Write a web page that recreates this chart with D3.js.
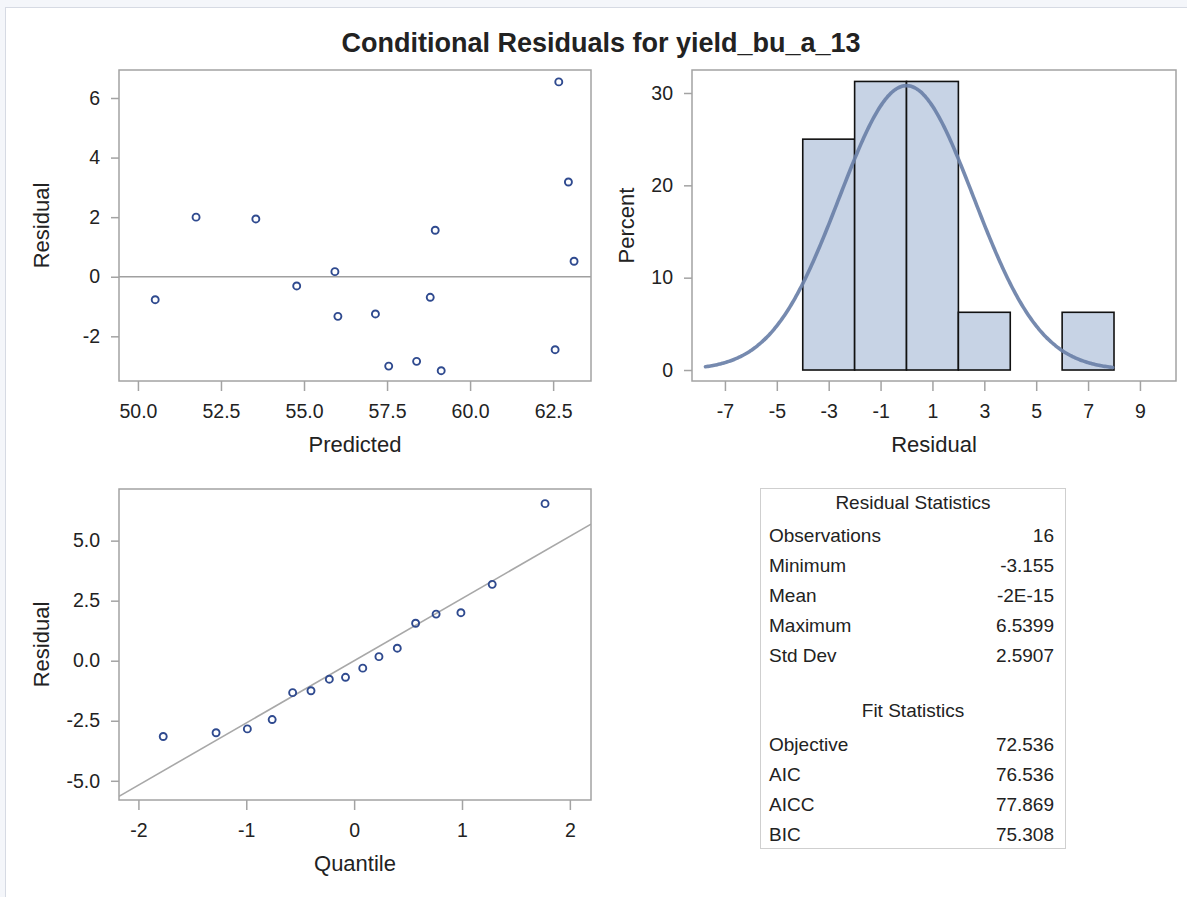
<!DOCTYPE html>
<html>
<head>
<meta charset="utf-8">
<script src="https://cdn.jsdelivr.net/npm/d3@7"></script>
<style>
  html, body { margin: 0; padding: 0; background: #f4f6fa; }
  svg { display: block; }
  text { font-family: "Liberation Sans", Arial, sans-serif; fill: #222; }
</style>
</head>
<body>
<svg id="chart" width="1187" height="897"></svg>
<script>
// ---------------- data ----------------
const chartTitle = "Conditional Residuals for yield_bu_a_13";
const predicted = [50.52, 51.75, 53.55, 54.78, 55.93, 56.02, 57.15, 57.55, 58.39, 58.80, 58.95, 59.13, 62.56, 62.67, 62.96, 63.13];
const residuals = [-0.77, 2.00, 1.94, -0.31, 0.17, -1.33, -1.25, -3.00, -2.84, -0.69, 1.56, -3.155, -2.45, 6.54, 3.18, 0.52];
// normal quantiles for sorted residuals
const quantiles = [-1.77, -1.28, -0.99, -0.76, -0.57, -0.40, -0.23, -0.08, 0.08, 0.23, 0.40, 0.57, 0.76, 0.99, 1.28, 1.77];
// histogram bins
const binStart = [-4, -2, 0, 2, 4, 6];
const binEnd   = [-2, 0, 2, 4, 6, 8];
const binPercent = [25, 31.25, 31.25, 6.25, 0, 6.25];
// tick values
const scatterXTicks = [50, 52.5, 55, 57.5, 60, 62.5];
const scatterYTicks = [-2, 0, 2, 4, 6];
const histXTicks = [-7, -5, -3, -1, 1, 3, 5, 7, 9];
const histYTicks = [0, 10, 20, 30];
const qqXTicks = [-2, -1, 0, 1, 2];
const qqYTicks = [-5, -2.5, 0, 2.5, 5];
// statistics table
const residStatLabels = ["Observations", "Minimum", "Mean", "Maximum", "Std Dev"];
const residStatValues = ["16", "-3.155", "-2E-15", "6.5399", "2.5907"];
const fitStatLabels = ["Objective", "AIC", "AICC", "BIC"];
const fitStatValues = ["72.536", "76.536", "77.869", "75.308"];
const residMean = 0;
const residSD = 2.5907;
const curveRange = [-7.75, 7.95];
const binWidth = 2;

// ---------------- drawing ----------------
const svg = d3.select("#chart");
const frameColor = "#a3a3a3";
const markerColor = "#2f4a8f";
const tickFont = "19.5px";
const labelFont = "22px";
const hy = f => (v => f(v).replace("\u2212", "-"));

// page panel
svg.append("rect").attr("x", 5.5).attr("y", 7.5).attr("width", 1200).attr("height", 900)
  .attr("fill", "#fff").attr("stroke", "#d6dae3").attr("stroke-width", 1);

svg.append("text").attr("x", 601).attr("y", 52).attr("text-anchor", "middle")
  .style("font-size", "27px").style("font-weight", "bold").attr("fill", "#111")
  .text(chartTitle);

function drawAxes(g, x, y, xTicks, yTicks, xFmt, yFmt, xLabel, yLabel, yLabelX) {
  const [x0, x1] = x.range();
  const [y0, y1] = y.range(); // y0 bottom, y1 top
  const ax = g.append("g").attr("transform", `translate(0,${y0})`)
    .call(d3.axisBottom(x).tickValues(xTicks).tickFormat(hy(xFmt)).tickSize(10).tickPadding(13));
  const ay = g.append("g").attr("transform", `translate(${x0},0)`)
    .call(d3.axisLeft(y).tickValues(yTicks).tickFormat(hy(yFmt)).tickSize(8).tickPadding(11));
  [ax, ay].forEach(a => {
    a.select(".domain").remove();
    a.selectAll(".tick line").attr("stroke", frameColor).attr("stroke-width", 1.5);
    a.selectAll(".tick text").style("font-size", tickFont).style("font-family", '"Liberation Sans", Arial, sans-serif').attr("fill", "#222");
  });
  g.append("text").attr("x", (x0 + x1) / 2).attr("y", y0 + 71).attr("text-anchor", "middle")
    .style("font-size", labelFont).text(xLabel);
  g.append("text").attr("transform", `translate(${yLabelX},${(y0 + y1) / 2}) rotate(-90)`)
    .attr("text-anchor", "middle").attr("dy", "0.35em").style("font-size", labelFont).text(yLabel);
}
function frame(g, x, y) {
  const [x0, x1] = x.range();
  const [y0, y1] = y.range();
  g.append("rect").attr("x", x0).attr("y", y1).attr("width", x1 - x0).attr("height", y0 - y1)
    .attr("fill", "none").attr("stroke", frameColor).attr("stroke-width", 1.5);
}

// ---- panel 1: residual vs predicted ----
{
  const g = svg.append("g");
  const x = d3.scaleLinear().domain([49.43, 63.64]).range([119, 591]);
  const y = d3.scaleLinear().domain([-3.5, 6.94]).range([381, 70]);
  g.append("line").attr("x1", x.range()[0]).attr("x2", x.range()[1])
    .attr("y1", y(0)).attr("y2", y(0)).attr("stroke", "#a0a0a0").attr("stroke-width", 1.5);
  g.selectAll("circle").data(predicted.map((p, i) => [p, residuals[i]])).join("circle")
    .attr("cx", d => x(d[0])).attr("cy", d => y(d[1])).attr("r", 3.5)
    .attr("fill", "none").attr("stroke", markerColor).attr("stroke-width", 1.9);
  frame(g, x, y);
  drawAxes(g, x, y, scatterXTicks, scatterYTicks, d3.format(".1f"), d3.format("d"), "Predicted", "Residual", 41);
}

// ---- panel 2: histogram ----
{
  const g = svg.append("g");
  const x = d3.scaleLinear().domain([-8.27, 10.39]).range([692, 1176]);
  const y = d3.scaleLinear().domain([-1.19, 32.49]).range([381, 70]);
  const bins = binStart.map((s, i) => ({ s, e: binEnd[i], p: binPercent[i] }));
  g.selectAll("rect.bar").data(bins).join("rect").attr("class", "bar")
    .attr("x", d => x(d.s)).attr("width", d => x(d.e) - x(d.s))
    .attr("y", d => y(d.p)).attr("height", d => y(0) - y(d.p))
    .attr("fill", "#c7d3e5").attr("stroke", "#111").attr("stroke-width", 1.6);
  // normal density curve from mean / std dev, scaled to percent per bin
  const xs = d3.range(curveRange[0], curveRange[1] + 0.001, 0.05);
  const dens = v => 100 * binWidth * Math.exp(-0.5 * ((v - residMean) / residSD) ** 2) / (residSD * Math.sqrt(2 * Math.PI));
  g.append("path").datum(xs)
    .attr("d", d3.line().x(v => x(v)).y(v => y(dens(v))).curve(d3.curveBasis))
    .attr("fill", "none").attr("stroke", "#6a80a8").attr("stroke-width", 3.6)
    .attr("stroke-opacity", 0.92).attr("stroke-linecap", "round");
  frame(g, x, y);
  drawAxes(g, x, y, histXTicks, histYTicks, d3.format("d"), d3.format("d"), "Residual", "Percent", 626);
}

// ---- panel 3: QQ plot ----
{
  const g = svg.append("g");
  const x = d3.scaleLinear().domain([-2.18, 2.196]).range([119, 591]);
  const y = d3.scaleLinear().domain([-5.8, 7.15]).range([800, 489]);
  svg.append("clipPath").attr("id", "qqclip").append("rect")
    .attr("x", 119).attr("y", 489).attr("width", 472).attr("height", 311);
  const dom = x.domain();
  g.append("line").attr("clip-path", "url(#qqclip)")
    .attr("x1", x(dom[0])).attr("y1", y(residMean + residSD * dom[0]))
    .attr("x2", x(dom[1])).attr("y2", y(residMean + residSD * dom[1]))
    .attr("stroke", "#a8a8a8").attr("stroke-width", 1.6);
  const sorted = residuals.slice().sort((a, b) => a - b);
  g.selectAll("circle").data(quantiles.map((q, i) => [q, sorted[i]])).join("circle")
    .attr("cx", d => x(d[0])).attr("cy", d => y(d[1])).attr("r", 3.5)
    .attr("fill", "none").attr("stroke", markerColor).attr("stroke-width", 1.9);
  frame(g, x, y);
  drawAxes(g, x, y, qqXTicks, qqYTicks, d3.format("d"), d3.format(".1f"), "Quantile", "Residual", 41);
}

// ---- panel 4: statistics table ----
{
  const g = svg.append("g");
  const bx = 760.5, by = 488.5, bw = 305, bh = 360;
  g.append("rect").attr("x", bx).attr("y", by).attr("width", bw).attr("height", bh)
    .attr("fill", "#fff").attr("stroke", "#cfcfcf").attr("stroke-width", 1);
  const fs = "19px";
  const lx = 769, rx = 1054;
  g.append("text").attr("x", bx + bw / 2).attr("y", 502).attr("dy", "0.35em")
    .attr("text-anchor", "middle").style("font-size", fs).text("Residual Statistics");
  const rowsTop = 535, rowStep = 30;
  g.selectAll("text.rl").data(residStatLabels).join("text").attr("class", "rl")
    .attr("x", lx).attr("y", (d, i) => rowsTop + i * rowStep).attr("dy", "0.35em")
    .style("font-size", fs).text(d => d);
  g.selectAll("text.rv").data(residStatValues).join("text").attr("class", "rv")
    .attr("x", rx).attr("y", (d, i) => rowsTop + i * rowStep).attr("dy", "0.35em")
    .attr("text-anchor", "end").style("font-size", fs).text(d => d);
  g.append("text").attr("x", bx + bw / 2).attr("y", 710).attr("dy", "0.35em")
    .attr("text-anchor", "middle").style("font-size", fs).text("Fit Statistics");
  const fitTop = 744;
  g.selectAll("text.fl").data(fitStatLabels).join("text").attr("class", "fl")
    .attr("x", lx).attr("y", (d, i) => fitTop + i * rowStep).attr("dy", "0.35em")
    .style("font-size", fs).text(d => d);
  g.selectAll("text.fv").data(fitStatValues).join("text").attr("class", "fv")
    .attr("x", rx).attr("y", (d, i) => fitTop + i * rowStep).attr("dy", "0.35em")
    .attr("text-anchor", "end").style("font-size", fs).text(d => d);
}
</script>
</body>
</html>
